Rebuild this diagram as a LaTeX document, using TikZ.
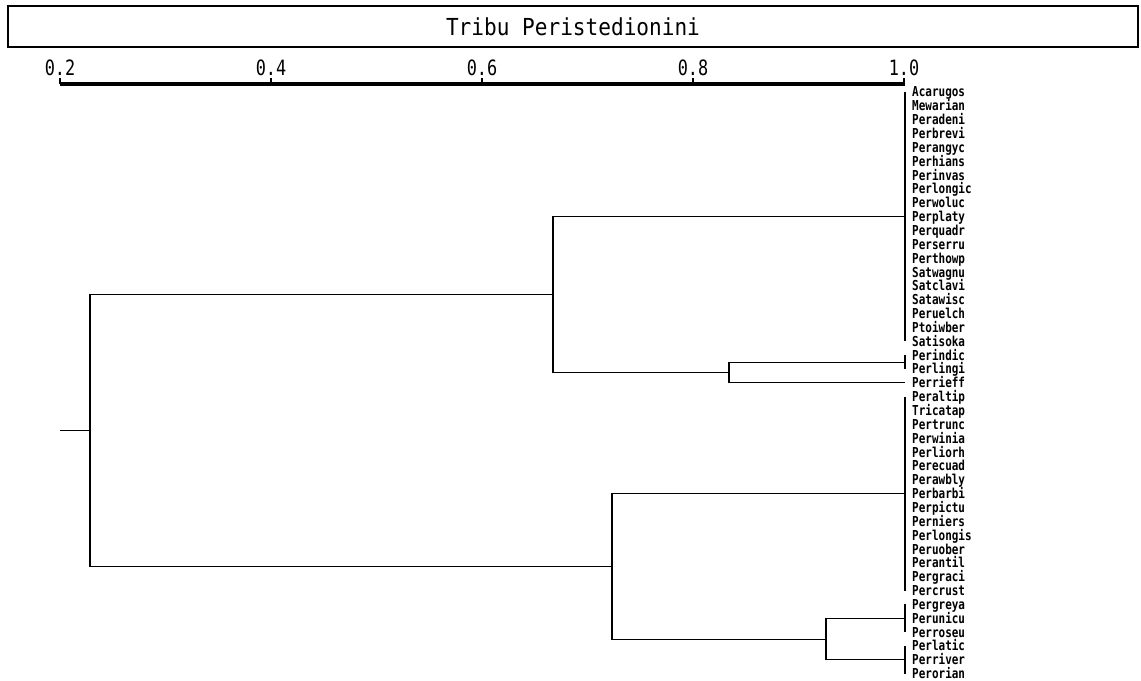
\documentclass[tikz,border=0pt]{standalone}
\usepackage{fontspec}
\usepackage{tikz}
\usetikzlibrary{calc}
\newfontfamily\titlefont[FakeStretch=0.9]{DejaVu Sans Mono}
\newfontfamily\axisfont[FakeStretch=0.8]{DejaVu Sans Mono}
\newfontfamily\leaffont[FakeStretch=0.8]{DejaVu Sans Mono Bold}

\begin{document}
\begin{tikzpicture}[
  x=0.03cm,
  y=-0.03cm,
  line/.style={draw=black, line width=0.9pt},
  axisline/.style={draw=black, line width=3.4pt},
  titlebox/.style={
    draw=black,
    line width=1pt,
    minimum width=33.9cm,
    minimum height=1.23cm,
    inner sep=0pt,
    font=\titlefont\fontsize{20}{22}\selectfont
  },
  ticklabel/.style={anchor=base, inner sep=0pt, font=\axisfont\fontsize{18}{20}\selectfont},
  leaf/.style={
    anchor=west,
    inner sep=0pt,
    text height=10pt,
    text depth=1.5pt,
    font=\leaffont\fontsize{11.7}{12}\selectfont
  }
]
\useasboundingbox (0,0) rectangle (1141,681);

\node[titlebox] (title) at (573,26.5) {Tribu Peristedionini};

\coordinate (axis0) at (60,84);
\coordinate (axis1) at (905,84);
\draw[axisline] (axis0) -- (axis1);
\foreach \v/\x in {0.2/60, 0.4/271, 0.6/482, 0.8/693, 1.0/904} {
  \draw[line] (\x,78) -- (\x,84);
  \node[ticklabel] (t\x) at (\x,76) {\v};
}

\foreach \name [count=\i] in {Acarugos, Mewarian, Peradeni, Perbrevi, Perangyc, Perhians,
    Perinvas, Perlongic, Perwoluc, Perplaty, Perquadr, Perserru, Perthowp, Satwagnu,
    Satclavi, Satawisc, Peruelch, Ptoiwber, Satisoka, Perindic, Perlingi, Perrieff,
    Peraltip, Tricatap, Pertrunc, Perwinia, Perliorh, Perecuad, Perawbly, Perbarbi,
    Perpictu, Perniers, Perlongis, Peruober, Perantil, Pergraci, Percrust, Pergreya,
    Perunicu, Perroseu, Perlatic, Perriver, Perorian} {
  \coordinate (p\i) at (905,{92+(\i-1)*13.85});
  \node[leaf] (l\i) at (912,{92+(\i-1)*13.85}) {\name};
}

\coordinate (a)    at (905,216.7);
\coordinate (b)    at (905,362.1);
\coordinate (c)    at (905,493.7);
\coordinate (d)    at (905,618.4);
\coordinate (e)    at (905,659.9);
\coordinate (jb)   at (729,372.5);
\coordinate (ja)   at (553,294.6);
\coordinate (jde)  at (826,639.1);
\coordinate (jc)   at (612,566.4);
\coordinate (root) at (90,430.5);
\coordinate (stub) at (60,430.5);

\draw[line] (p1) -- (p19);
\draw[line] (p20) -- (p21);
\draw[line] (p23) -- (p37);
\draw[line] (p38) -- (p40);
\draw[line] (p41) -- (p43);

\draw[line] (stub) -- (root);
\draw[line] (root) |- (ja);
\draw[line] (root) |- (jc);
\draw[line] (ja) |- (a);
\draw[line] (ja) |- (jb);
\draw[line] (jb) |- (b);
\draw[line] (jb) |- (p22);
\draw[line] (jc) |- (c);
\draw[line] (jc) |- (jde);
\draw[line] (jde) |- (d);
\draw[line] (jde) |- (e);
\end{tikzpicture}
\end{document}
